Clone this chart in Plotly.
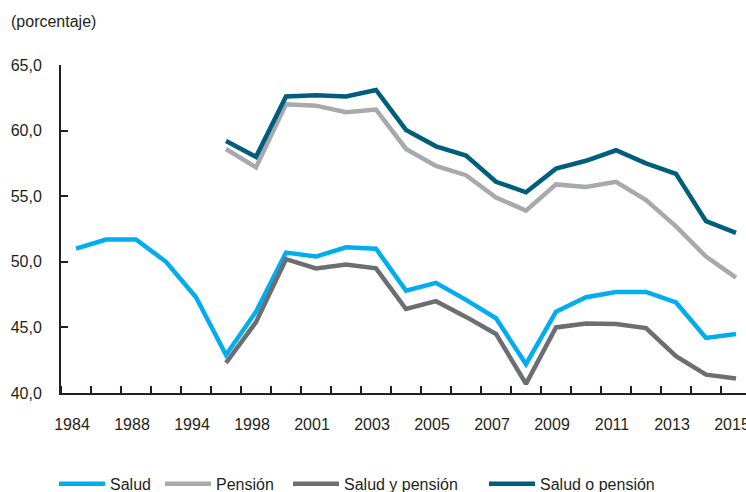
import plotly.graph_objects as go

years = ["1984", "1986", "1988", "1990", "1994", "1996", "1998", "2000", "2001", "2002",
         "2003", "2004", "2005", "2006", "2007", "2008", "2009", "2010", "2011", "2012",
         "2013", "2014", "2015"]
tick_labels = ["1984", "1988", "1994", "1998", "2001", "2003", "2005", "2007", "2009",
               "2011", "2013", "2015"]

salud = [51.0, 51.7, 51.7, 50.0, 47.3, 42.9, 46.2, 50.7, 50.4, 51.1, 51.0, 47.8, 48.4,
         47.1, 45.7, 42.2, 46.2, 47.3, 47.7, 47.7, 46.9, 44.2, 44.5]
pension = [None, None, None, None, None, 58.6, 57.2, 62.0, 61.9, 61.4, 61.6, 58.6, 57.3,
           56.6, 54.9, 53.9, 55.9, 55.7, 56.1, 54.7, 52.7, 50.4, 48.8]
salud_y_pension = [None, None, None, None, None, 42.3, 45.4, 50.2, 49.5, 49.8, 49.5, 46.4,
                   47.0, 45.8, 44.5, 40.7, 45.0, 45.3, 45.25, 44.95, 42.8, 41.4, 41.1]
salud_o_pension = [None, None, None, None, None, 59.2, 58.0, 62.6, 62.7, 62.6, 63.1, 60.05,
                   58.8, 58.1, 56.1, 55.3, 57.1, 57.7, 58.5, 57.5, 56.7, 53.1, 52.2]

series = [
    ("Salud", salud, "#00aeef", "legend"),
    ("Pensión", pension, "#a7a9ac", "legend2"),
    ("Salud y pensión", salud_y_pension, "#6d6e71", "legend3"),
    ("Salud o pensión", salud_o_pension, "#005e7d", "legend4"),
]

idx = list(range(len(years)))
fig = go.Figure()
for name, vals, color, lg in series:
    fig.add_trace(go.Scatter(x=idx, y=vals, name=name, mode="lines",
                             line=dict(color=color, width=4.5),
                             legend=lg, hoverinfo="skip"))

W, H = 746, 492
ml, mt, mb, mr = 61, 64.5, 99, 0
pw = W - ml - mr
ph = H - mt - mb

def px_x(p):
    return (p - ml) / pw

def px_y(p):
    return (H - mb - p) / ph

font = dict(family="Liberation Sans, Arial, sans-serif", size=16, color="#231f20")

tickpos = [years.index(t) for t in tick_labels]

fig.update_layout(
    width=W, height=H,
    margin=dict(l=ml, r=mr, t=mt, b=mb, pad=0, autoexpand=False),
    paper_bgcolor="white", plot_bgcolor="white",
    font=font,
    separators=",.",
    showlegend=True,
    xaxis=dict(range=[-0.5, -0.5 + pw / 30.0], tickmode="array",
               tickvals=tickpos, ticktext=tick_labels, ticks="",
               showgrid=False, zeroline=False, showline=True, automargin=False,
               linecolor="#231f20", linewidth=2, ticklabeloverflow="allow",
               ticklabelstandoff=16, ticklabelshift=-4,
               minor=dict(tickmode="array", tickvals=[i - 0.5 for i in idx] + [len(idx) - 0.5],
                          ticks="inside", ticklen=7, tickwidth=1.5, tickcolor="#231f20",
                          showgrid=False)),
    yaxis=dict(range=[40, 65], tickmode="array", tickvals=[40, 45, 50, 55, 60, 65],
               tickformat=".1f", ticks="inside", ticklen=7, tickwidth=1.5, automargin=False,
               tickcolor="#231f20", showgrid=False, zeroline=False, showline=True,
               linecolor="#231f20", linewidth=2, ticklabelstandoff=14),
    annotations=[dict(text="(porcentaje)", xref="paper", yref="paper",
                      x=px_x(9), y=px_y(21), xanchor="left", yanchor="middle",
                      showarrow=False, font=font)],
)

legend_x = [62, 168, 296, 492]
for lg, lx in zip(["legend", "legend2", "legend3", "legend4"], legend_x):
    fig.update_layout({lg: dict(x=px_x(lx - 8), y=px_y(484), xanchor="left", yanchor="middle",
                                orientation="h", bgcolor="rgba(0,0,0,0)",
                                font=font, itemwidth=46, borderwidth=0,
                                tracegroupgap=0)})

fig.write_html("out.html", config={"displayModeBar": False},
               post_script="document.body.style.margin='0';document.body.style.overflow='hidden';")
